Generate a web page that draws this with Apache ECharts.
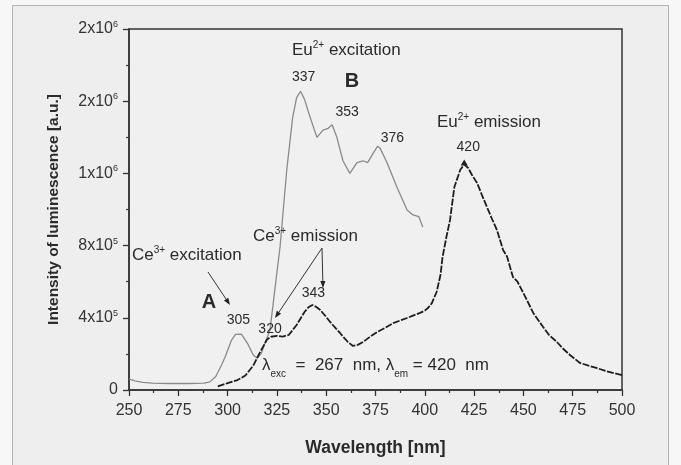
<!DOCTYPE html>
<html>
<head>
<meta charset="utf-8">
<script src="https://cdn.jsdelivr.net/npm/echarts@6/dist/echarts.min.js"></script>
<style>
  html, body { margin: 0; padding: 0; background: #f7f7f7; }
  #frame { position: absolute; left: 12px; top: 5px; width: 657px; height: 470px;
           border: 1.5px solid #b4b4b4; background: #eeeeee; box-sizing: border-box; }
  #chart { position: absolute; left: 0; top: 0; width: 681px; height: 465px; }
</style>
</head>
<body>
<div id="frame"></div>
<div id="chart"></div>
<script>
// Wavelength [nm] / intensity [a.u.] pairs
const ceExcitation = [
  [250, 61000], [253, 50000], [257, 42000], [262, 38000], [270, 36000], [280, 36000],
  [288, 38000], [291, 45000], [294, 75000], [297, 140000], [299, 190000], [302, 277000],
  [304, 308000], [305, 316000], [307, 310000], [310, 260000], [313, 194000], [315, 177000],
  [317, 200000], [319, 260000]
];
const euExcitation = [
  [319, 260000], [321.5, 332000], [324, 560000], [326.6, 792000], [330, 1220000],
  [333, 1510000], [335, 1620000], [337, 1655000], [339, 1610000], [341, 1540000],
  [342.8, 1480000], [345.3, 1400000], [348.4, 1440000], [351, 1450000], [353, 1470000],
  [355.4, 1400000], [358.5, 1270000], [362, 1200000], [365.6, 1260000], [368.7, 1270000],
  [371, 1260000], [373.7, 1310000], [376, 1350000], [377.3, 1340000], [380.8, 1260000],
  [386, 1120000], [391, 997000], [394, 970000], [397, 960000], [399, 903000]
];
const euEmission = [
  [295, 20000], [300, 38000], [305, 55000], [309, 80000], [313, 135000], [316, 200000],
  [318, 240000], [320, 280000], [322, 295000], [325, 300000], [328, 296000], [331, 305000],
  [335, 360000], [339, 432000], [341, 458000], [343, 471000], [345, 460000], [347, 443000],
  [350, 405000], [352, 377000], [355, 340000], [357, 316000], [359, 290000], [361, 266000],
  [363.6, 244000], [366, 250000], [368.7, 266000], [372, 293000], [375.8, 321000],
  [380, 345000], [384, 371000], [388, 387000], [391, 399000], [394, 412000],
  [397.6, 427000], [400, 440000], [401.6, 454000], [403.5, 480000], [406, 543000],
  [408, 640000], [409, 737000], [411, 850000], [412.8, 942000], [415, 1125000],
  [418, 1220000], [420, 1250000], [422, 1230000], [424, 1190000], [426.5, 1147000],
  [429, 1080000], [431.5, 1014000], [434, 950000], [436.6, 886000], [439.7, 776000],
  [441.7, 740000], [444.7, 626000], [447, 600000], [450, 537000], [455, 427000],
  [460, 349000], [463, 305000], [467, 266000], [470, 230000], [473.6, 194000],
  [478.7, 150000], [483, 135000], [487, 122000], [492, 105000], [496, 93000], [500, 83000]
];
// Tick labels of the intensity axis (0 … 2x10^6 in steps of 4x10^5)
const yTickLabels = ['0', '4x10^5', '8x10^5', '1x10^6', '2x10^6', '2x10^6'];
// Peak wavelengths marked on each curve
const excitationPeaks = [305, 337, 353, 376];
const emissionPeaks = [320, 343, 420];

const FONT = '"Liberation Sans", Arial, sans-serif';
const INK = '#2b2b2b';

function valueAt(series, x) {
  const p = series.find(d => d[0] === x);
  return p ? p[1] : 0;
}

// offsets of the peak numbers relative to their points
const peakOffsets = {
  305: [1, -13], 320: [3, -10], 337: [3, -14], 353: [15, -13],
  376: [15, -8], 343: [1, -12], 420: [4, -17]
};

function peakMarks(series, peaks) {
  return peaks.map(w => ({
    coord: [w, valueAt(series, w)],
    symbol: 'circle',
    symbolSize: 0.1,
    itemStyle: { color: 'rgba(0,0,0,0)' },
    label: {
      show: true, position: 'inside', offset: peakOffsets[w],
      formatter: String(w), color: INK, fontSize: 14, fontFamily: FONT
    }
  }));
}

const excitationAll = ceExcitation.concat(euExcitation.slice(1));

const chart = echarts.init(document.getElementById('chart'), null, { renderer: 'canvas' });

const sup = { fontSize: 10, verticalAlign: 'top', color: INK, fontFamily: FONT, lineHeight: 20 };
const base = { fontSize: 17, color: INK, fontFamily: FONT, lineHeight: 20 };
const sub = { fontSize: 10, verticalAlign: 'bottom', color: INK, fontFamily: FONT, lineHeight: 20, padding: [0, 0, -4, 0] };

function richText(left, cy, text) {
  return {
    type: 'text', left: left, top: cy - 10, z: 10,
    style: { text: text, rich: { b: base, s: sup, u: sub }, fill: INK }
  };
}
function boldLetter(cx, cy, t) {
  return {
    type: 'text', x: cx, y: cy, z: 10,
    style: { text: t, font: 'bold 20px ' + FONT, fill: INK, align: 'center', verticalAlign: 'middle' }
  };
}
function arrow(x1, y1, x2, y2) {
  const a = Math.atan2(y2 - y1, x2 - x1);
  const L = 7, W = 2.6;
  const bx = x2 - L * Math.cos(a), by = y2 - L * Math.sin(a);
  const nx = -Math.sin(a) * W, ny = Math.cos(a) * W;
  return [
    { type: 'line', z: 10, shape: { x1: x1, y1: y1, x2: bx, y2: by }, style: { stroke: '#333', lineWidth: 1 } },
    { type: 'polygon', z: 10, shape: { points: [[x2, y2], [bx + nx, by + ny], [bx - nx, by - ny]] }, style: { fill: '#222' } }
  ];
}

const option = {
  animation: false,
  backgroundColor: 'transparent',
  grid: {
    left: 129, right: 59, top: 29, bottom: 75,
    show: true, borderColor: '#333', borderWidth: 1.5, backgroundColor: '#f0f0f0'
  },
  xAxis: {
    type: 'value', min: 250, max: 500, interval: 25,
    name: 'Wavelength [nm]', nameLocation: 'middle', nameGap: 49,
    nameTextStyle: { fontFamily: FONT, fontWeight: 'bold', fontSize: 17.5, color: INK },
    axisLine: { show: true, onZero: false, lineStyle: { color: '#333', width: 1.5 } },
    axisTick: { show: true, inside: false, length: 6, lineStyle: { color: '#333', width: 1.3 } },
    minorTick: { show: true, splitNumber: 2, length: 3, lineStyle: { color: '#333', width: 1.2 } },
    axisLabel: { margin: 13, fontFamily: FONT, fontSize: 16, color: '#333' },
    splitLine: { show: false }
  },
  yAxis: {
    type: 'value', min: 0, max: 2000000, interval: 400000,
    name: 'Intensity of luminescence [a.u.]', nameLocation: 'middle', nameGap: 67,
    nameTextStyle: { fontFamily: FONT, fontWeight: 'bold', fontSize: 15.5, color: INK },
    axisLine: { show: true, lineStyle: { color: '#333', width: 1.5 } },
    axisTick: { show: true, inside: false, length: 6, lineStyle: { color: '#333', width: 1.3 } },
    minorTick: { show: true, splitNumber: 2, length: 3, lineStyle: { color: '#333', width: 1.2 } },
    axisLabel: {
      margin: 11,
      formatter: (v) => {
        const t = yTickLabels[Math.round(v / 400000)] || '';
        const parts = t.split('^');
        return parts.length > 1 ? '{b|' + parts[0] + '}{s|' + parts[1] + '}' : '{b|' + t + '}';
      },
      rich: {
        b: { fontFamily: FONT, fontSize: 16, color: '#333', lineHeight: 18 },
        s: { fontFamily: FONT, fontSize: 9, color: '#333', verticalAlign: 'top', lineHeight: 18 }
      }
    },
    splitLine: { show: false }
  },
  series: [
    {
      name: 'Excitation', type: 'line', data: excitationAll, showSymbol: false,
      lineStyle: { color: '#8a8a8a', width: 1.3 }, z: 2,
      markPoint: { data: peakMarks(excitationAll, excitationPeaks), animation: false }
    },
    {
      name: 'Emission', type: 'line', data: euEmission, showSymbol: false,
      lineStyle: { color: '#1e1e1e', width: 1.8, type: [7, 1.5] }, z: 3,
      markPoint: {
        data: peakMarks(euEmission, emissionPeaks).concat([{
          coord: [420, valueAt(euEmission, 420)],
          symbol: 'triangle', symbolSize: [7, 6], symbolOffset: [0, -2],
          itemStyle: { color: '#1e1e1e' }, label: { show: false }
        }]),
        animation: false
      }
    }
  ],
  graphic: [
    richText(292, 50, '{b|Eu}{s|2+}{b| excitation}'),
    boldLetter(352, 81, 'B'),
    richText(437, 122, '{b|Eu}{s|2+}{b| emission}'),
    richText(132, 255, '{b|Ce}{s|3+}{b| excitation}'),
    boldLetter(209, 302, 'A'),
    richText(253, 236, '{b|Ce}{s|3+}{b| emission}'),
    // excitation / emission wavelengths used for the measurement
    richText(262, 367, '{b|λ}{u|exc}{b|  =  267  nm, λ}{u|em}{b| = 420  nm}')
  ].concat(arrow(208, 272, 230, 305))
   .concat(arrow(322, 248, 275, 318))
   .concat(arrow(322, 248, 323, 288))
};

chart.setOption(option);
</script>
</body>
</html>
